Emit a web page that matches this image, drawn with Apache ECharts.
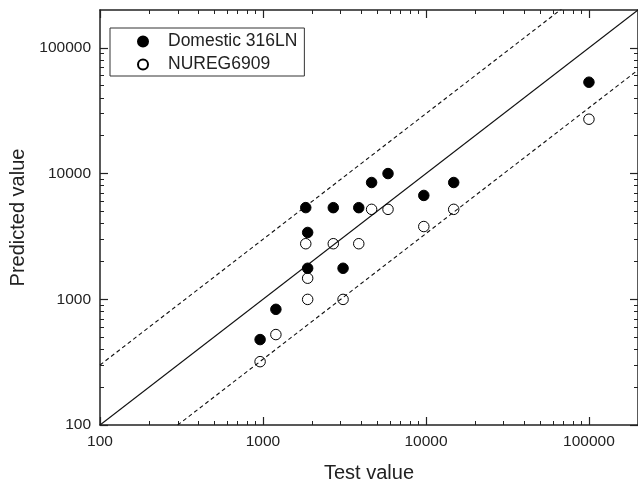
<!DOCTYPE html>
<html>
<head>
<meta charset="utf-8">
<script src="https://cdn.jsdelivr.net/npm/echarts@6/dist/echarts.min.js"></script>
<style>
html,body{margin:0;padding:0;background:#fff;}
#chart{width:638px;height:488px;}
</style>
</head>
<body>
<div id="chart"></div>
<script>
// ---- data ----
const domesticX = [960, 1200, 1830, 1880, 1880, 2700, 3100, 3870, 4640, 5850, 9700, 14800, 100000];
const domesticY = [478, 832, 5360, 3400, 1765, 5355, 1765, 5355, 8490, 10000, 6700, 8490, 53300];
const nuregX = [960, 1200, 1830, 1880, 1880, 2700, 3100, 3870, 4640, 5850, 9700, 14800, 100000];
const nuregY = [319, 524, 2767, 1471, 998, 2767, 998, 2767, 5193, 5193, 3790, 5193, 27060];
const seriesNames = ['Domestic 316LN', 'NUREG6909'];
const majorTicks = [100, 1000, 10000, 100000];
const minorMultipliers = [2, 3, 4, 5, 6, 7, 8, 9];
const axisMin = 100;
const axisMax = 200000;
const bandFactors = [1, 3, 1 / 3];
const bandTypes = ['solid', 'dashed', 'dashed'];

const minorTicks = [];
majorTicks.forEach(d => minorMultipliers.forEach(m => { if (d * m < axisMax) minorTicks.push(d * m); }));

const font = 'Liberation Sans, Arial, sans-serif';
const ink = '#222';
const plain = v => String(Math.round(v));

function mkAxis(position, opts) {
  const base = {
    type: 'log', logBase: 10, min: axisMin, max: axisMax, position: position,
    axisLine: { show: true, onZero: false, lineStyle: { color: ink, width: 1.5 } },
    splitLine: { show: false },
    axisLabel: { show: false },
    axisTick: { show: true, inside: true, length: 8, customValues: majorTicks, lineStyle: { color: ink, width: 1.2 } }
  };
  return Object.assign(base, opts || {});
}
const minorOpts = {
  axisLine: { show: false, onZero: false },
  axisTick: { show: true, inside: true, length: 4, customValues: minorTicks, lineStyle: { color: ink, width: 1 } }
};

const xAxes = [
  mkAxis('bottom', {
    name: 'Test value', nameLocation: 'middle', nameGap: 38,
    nameTextStyle: { fontFamily: font, fontSize: 20, color: ink },
    axisLabel: { show: true, customValues: majorTicks, formatter: plain, margin: 9, fontFamily: font, fontSize: 15.5, color: ink }
  }),
  mkAxis('top'),
  mkAxis('bottom', minorOpts),
  mkAxis('top', minorOpts)
];
const yAxes = [
  mkAxis('left', {
    name: 'Predicted value', nameLocation: 'middle', nameGap: 72,
    nameTextStyle: { fontFamily: font, fontSize: 20, color: ink },
    axisLabel: { show: true, customValues: majorTicks, formatter: plain, margin: 9, fontFamily: font, fontSize: 15.5, color: ink }
  }),
  mkAxis('right'),
  mkAxis('left', minorOpts),
  mkAxis('right', minorOpts)
];

const series = [];
bandFactors.forEach((f, i) => {
  series.push({
    type: 'line', xAxisIndex: 0, yAxisIndex: 0, clip: true, silent: true,
    symbol: 'none', z: 1,
    lineStyle: { color: '#111', width: 1.1, type: bandTypes[i] === 'dashed' ? [4, 3] : 'solid' },
    data: [[axisMin, axisMin * f], [axisMax, axisMax * f]]
  });
});
series.push({
  name: seriesNames[0], type: 'scatter', xAxisIndex: 0, yAxisIndex: 0, symbol: 'circle', symbolSize: 10.5, z: 3,
  itemStyle: { color: '#000', borderColor: '#000', borderWidth: 1, opacity: 1 },
  data: domesticX.map((x, i) => [x, domesticY[i]])
});
series.push({
  name: seriesNames[1], type: 'scatter', xAxisIndex: 0, yAxisIndex: 0, symbol: 'circle', symbolSize: 10.5, z: 3,
  itemStyle: { color: 'rgba(255,255,255,0)', borderColor: '#000', borderWidth: 1, opacity: 1 },
  data: nuregX.map((x, i) => [x, nuregY[i]])
});

const chart = echarts.init(document.getElementById('chart'), null, { renderer: 'canvas' });
chart.setOption({
  animation: false,
  backgroundColor: '#fff',
  grid: { left: 99, right: -2, top: 10, bottom: 60, containLabel: false },
  legend: {
    data: seriesNames, orient: 'vertical', left: 110, top: 28,
    padding: [4, 7, 2, 27], itemGap: 4, itemWidth: 10, itemHeight: 10,
    borderColor: '#333', borderWidth: 1, backgroundColor: '#fff',
    textStyle: { fontFamily: font, fontSize: 17.5, color: ink, lineHeight: 19, padding: [0, 0, 0, 15] }
  },
  xAxis: xAxes,
  yAxis: yAxes,
  series: series
});
</script>
</body>
</html>
